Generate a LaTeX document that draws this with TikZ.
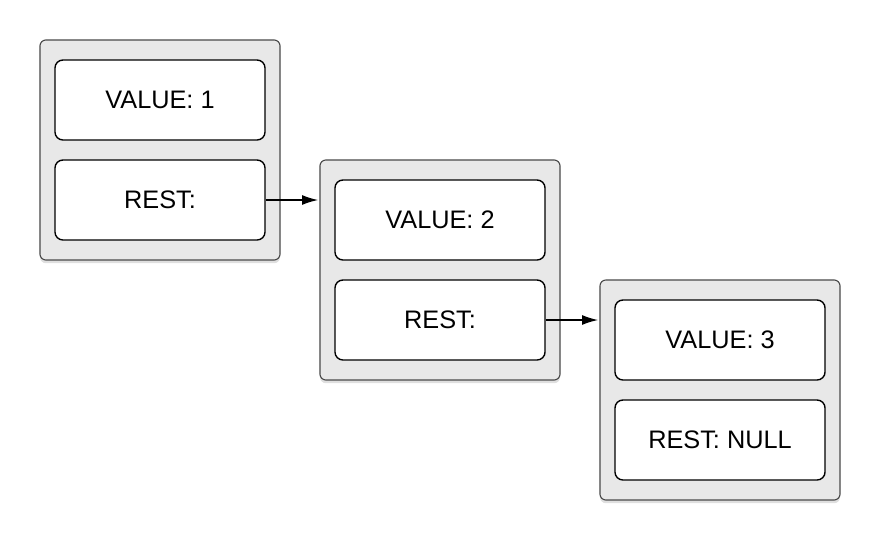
\documentclass[tikz,border=0pt]{standalone}
\usepackage{fontspec}
\setmainfont{Liberation Sans}
\usetikzlibrary{shadows,arrows.meta}
\definecolor{cellgrey}{HTML}{E8E8E8}
\definecolor{cellline}{HTML}{4A4A4A}
\tikzset{
    cell/.style={draw=cellline, line width=0.8pt, fill=cellgrey, rounded corners=0.15cm,
        minimum width=6cm, minimum height=5.5cm,
        drop shadow={shadow xshift=0pt, shadow yshift=-0.08cm, opacity=0.25}},
    field/.style={draw=black, line width=1pt, fill=white, rounded corners=0.2cm,
        minimum width=5.25cm, minimum height=2cm, font=\fontsize{18}{20}\selectfont},
    link/.style={-{Latex[length=0.4cm, width=0.25cm]}, line width=0.9pt, shorten >=1pt}
}
\begin{document}
\begin{tikzpicture}[x=0.025cm, y=-0.025cm]
        \useasboundingbox (0,0) rectangle (880,540);
        % First element
        \node[cell] (cell1) at (160,150) {};
        \node[field] (value1) at (160,100) {VALUE: 1};
        \node[field] (rest1) at (160,200) {REST:};
        % Second element
        \node[cell] (cell2) at (440,270) {};
        \node[field] (value2) at (440,220) {VALUE: 2};
        \node[field] (rest2) at (440,320) {REST:};
        % Third element
        \node[cell] (cell3) at (720,390) {};
        \node[field] (value3) at (720,340) {VALUE: 3};
        \node[field] (rest3) at (720,440) {REST: NULL};
        % Links
        \draw[link] (rest1.east) -- (rest1.east -| cell2.west);
        \draw[link] (rest2.east) -- (rest2.east -| cell3.west);
    \end{tikzpicture}
\end{document}
